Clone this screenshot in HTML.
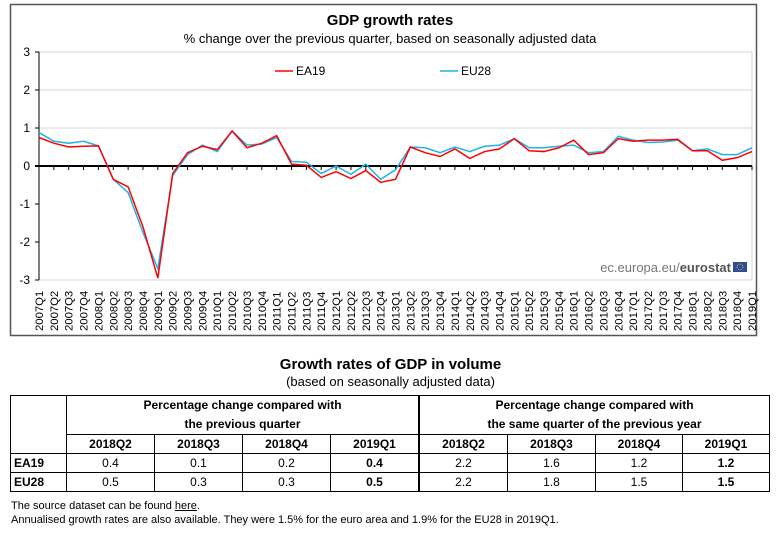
<!DOCTYPE html>
<html><head><meta charset="utf-8"><style>
body{margin:0;background:#fff;width:781px;height:537px;overflow:hidden;font-family:"Liberation Sans",Arial,sans-serif;position:relative}
table{position:absolute;left:10px;top:395px;border-collapse:collapse;font-size:12px}
td{border:1.5px solid #000;text-align:center;padding:0;height:18px}
.b{font-weight:bold}
.ft{position:absolute;left:11px;font-size:11px}
</style></head><body>
<svg width="781" height="345" style="position:absolute;left:0;top:0" font-family="Liberation Sans, Arial, sans-serif">
<rect x="10.5" y="4.5" width="746" height="331" fill="#fff" stroke="#555" stroke-width="1.5"/>
<text x="390" y="25" text-anchor="middle" font-size="15" font-weight="bold">GDP growth rates</text>
<text x="390" y="43" text-anchor="middle" font-size="13">% change over the previous quarter, based on seasonally adjusted data</text>
<g stroke="#d4d4d4" stroke-width="1">
<line x1="39" x2="752" y1="52" y2="52"/><line x1="39" x2="752" y1="90" y2="90"/><line x1="39" x2="752" y1="128" y2="128"/>
<line x1="752" x2="752" y1="52" y2="280"/><line x1="39" x2="752" y1="280" y2="280"/>
</g>
<line x1="39" x2="39" y1="52" y2="280" stroke="#000"/>
<g font-size="12" text-anchor="end">
<text x="30" y="56">3</text><text x="30" y="94">2</text><text x="30" y="132">1</text><text x="30" y="170">0</text><text x="30" y="208">-1</text><text x="30" y="246">-2</text><text x="30" y="284">-3</text>
</g>
<g stroke="#000"><line x1="35" x2="39" y1="52" y2="52"/><line x1="35" x2="39" y1="90" y2="90"/><line x1="35" x2="39" y1="128" y2="128"/><line x1="35" x2="39" y1="204" y2="204"/><line x1="35" x2="39" y1="242" y2="242"/><line x1="35" x2="39" y1="280" y2="280"/></g>
<line x1="35" x2="752" y1="166" y2="166" stroke="#000" stroke-width="2"/>
<g id="ticks" stroke="#000"></g>
<line x1="275" x2="293" y1="71" y2="71" stroke="#f00" stroke-width="1.5"/><text x="296" y="75" font-size="12">EA19</text>
<line x1="440" x2="458" y1="71" y2="71" stroke="#1eb4e8" stroke-width="1.5"/><text x="461" y="75" font-size="12">EU28</text>
<text x="731" y="272" text-anchor="end" font-size="13" fill="#777">ec.europa.eu/<tspan font-weight="bold" fill="#555">eurostat</tspan></text>
<rect x="733" y="262" width="14" height="10" fill="#2d4c9b"/>
<circle cx="740" cy="267" r="3" fill="none" stroke="#fc0" stroke-width="0.8" stroke-dasharray="1 1"/>
<polyline id="eu" fill="none" stroke="#1eb4e8" stroke-width="1.5"/>
<polyline id="ea" fill="none" stroke="#f00" stroke-width="1.5"/>
<g id="xl" font-size="11.3"></g>
</svg>
<div style="position:absolute;left:0;width:781px;top:356px;text-align:center;font-size:15px;font-weight:bold">Growth rates of GDP in volume</div>
<div style="position:absolute;left:0;width:781px;top:374px;text-align:center;font-size:13px">(based on seasonally adjusted data)</div>
<table>
<tr><td rowspan="2" style="width:55px"></td><td colspan="4" class="b" style="height:36px;line-height:19px">Percentage change compared with<br>the previous quarter</td><td colspan="4" class="b" style="border-left:2.5px solid #000;line-height:19px">Percentage change compared with<br>the same quarter of the previous year</td></tr>
<tr class="b"><td style="width:87px">2018Q2</td><td style="width:87px">2018Q3</td><td style="width:87px">2018Q4</td><td style="width:87px">2019Q1</td><td style="width:87px;border-left:2.5px solid #000">2018Q2</td><td style="width:87px">2018Q3</td><td style="width:86px">2018Q4</td><td style="width:86px">2019Q1</td></tr>
<tr><td class="b" style="text-align:left;padding-left:3px">EA19</td><td>0.4</td><td>0.1</td><td>0.2</td><td class="b">0.4</td><td style="border-left:2.5px solid #000">2.2</td><td>1.6</td><td>1.2</td><td class="b">1.2</td></tr>
<tr><td class="b" style="text-align:left;padding-left:3px">EU28</td><td>0.5</td><td>0.3</td><td>0.3</td><td class="b">0.5</td><td style="border-left:2.5px solid #000">2.2</td><td>1.8</td><td>1.5</td><td class="b">1.5</td></tr>
</table>
<div class="ft" style="top:500px">The source dataset can be found <u>here</u>.</div>
<div class="ft" style="top:514px">Annualised growth rates are also available. They were 1.5% for the euro area and 1.9% for the EU28 in 2019Q1.</div>
<script>
var ea=[0.75,0.6,0.5,0.52,0.53,-0.35,-0.55,-1.6,-2.95,-0.2,0.35,0.52,0.43,0.92,0.48,0.6,0.8,0.05,0.02,-0.3,-0.15,-0.33,-0.12,-0.43,-0.35,0.5,0.35,0.25,0.45,0.2,0.38,0.45,0.72,0.4,0.38,0.48,0.68,0.3,0.35,0.72,0.65,0.68,0.68,0.7,0.4,0.4,0.15,0.22,0.38];
var eu=[0.88,0.65,0.6,0.65,0.53,-0.35,-0.7,-1.75,-2.7,-0.25,0.3,0.55,0.38,0.92,0.55,0.58,0.75,0.12,0.1,-0.2,0,-0.22,0.05,-0.35,-0.1,0.5,0.48,0.35,0.5,0.38,0.52,0.55,0.72,0.48,0.48,0.52,0.55,0.35,0.38,0.78,0.68,0.62,0.63,0.68,0.4,0.45,0.3,0.3,0.48];
var X=i=>39+i*14.854,Y=v=>166-v*38;
document.getElementById('ea').setAttribute('points',ea.map((v,i)=>X(i)+','+Y(v)).join(' '));
document.getElementById('eu').setAttribute('points',eu.map((v,i)=>X(i)+','+Y(v)).join(' '));
var t='',l='';
for(var i=0;i<49;i++){var x=X(i);t+='<line x1="'+x+'" x2="'+x+'" y1="166" y2="170"/>';
var q=(2007+Math.floor(i/4))+'Q'+(i%4+1);l+='<text transform="translate('+(x+4)+',331) rotate(-90)">'+q+'</text>';}
document.getElementById('ticks').innerHTML=t;document.getElementById('xl').innerHTML=l;
</script>
</body></html>
